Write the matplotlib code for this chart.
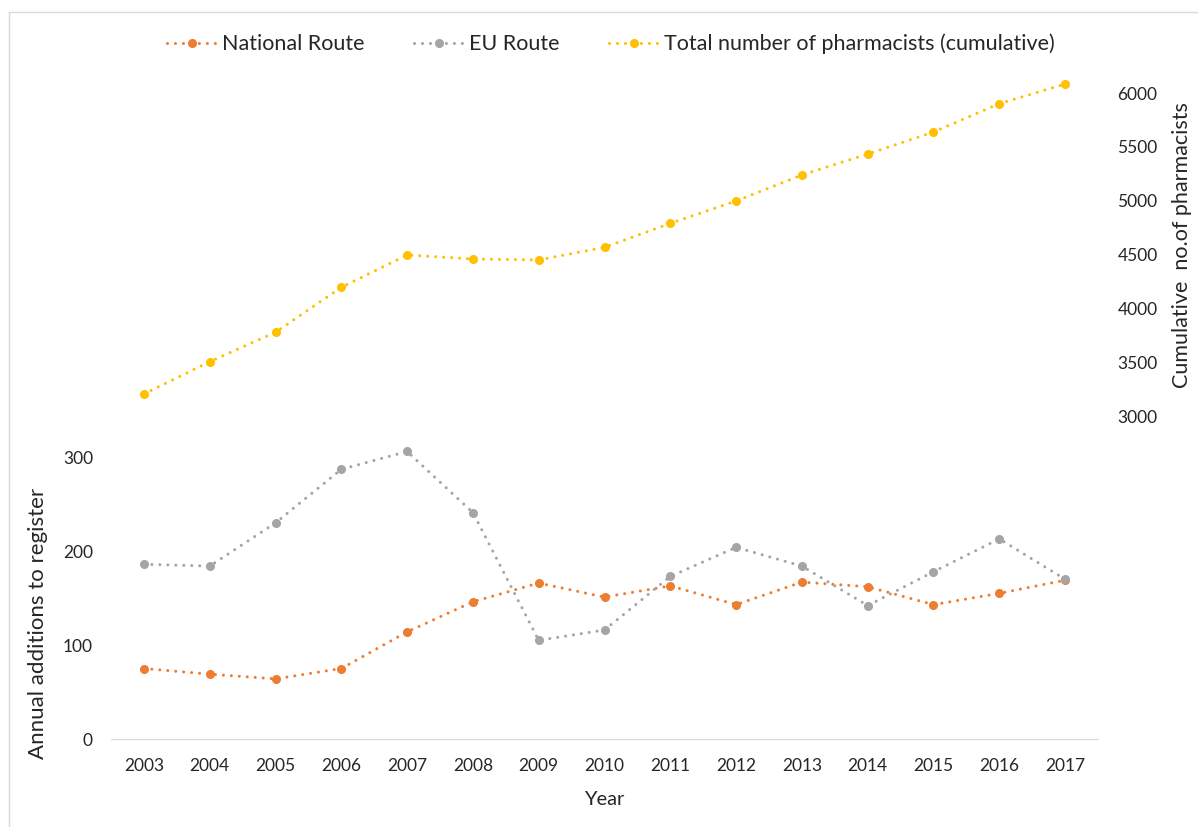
import matplotlib.pyplot as plt
from matplotlib.patches import Rectangle

plt.rcParams['font.family'] = ['Lato', 'DejaVu Sans']

years = ['2003', '2004', '2005', '2006', '2007', '2008', '2009', '2010',
         '2011', '2012', '2013', '2014', '2015', '2016', '2017']
national = [75, 69, 64, 75, 114, 146, 166, 151, 163, 143, 167, 162, 143, 155, 169]
eu = [186, 184, 230, 287, 306, 241, 105, 116, 173, 204, 184, 142, 178, 213, 170]
total = [3213, 3512, 3784, 4201, 4500, 4463, 4454, 4571, 4793, 5000,
         5241, 5435, 5639, 5901, 6083]

left_ticks = [0, 100, 200, 300]
right_ticks = [3000, 3500, 4000, 4500, 5000, 5500, 6000]

W, H = 1198, 827
fig = plt.figure(figsize=(W / 100, H / 100), dpi=100)

# light chart border like the Excel chart area
fig.patches.append(Rectangle((9 / W, -0.01), 1.1, 1 - 12 / H + 0.01,
                             transform=fig.transFigure, fill=False,
                             edgecolor='#d9d9d9', linewidth=1))

ax = fig.add_axes([111 / W, 88 / H, 987 / W, 669 / H])
ax2 = ax.twinx()

x = list(range(len(years)))
dots = (0, (0.01, 2.6))
style = dict(linestyle=dots, linewidth=2.2, dash_capstyle='round',
             marker='o', markersize=5.5)

l1, = ax.plot(x, national, color='#ED7D31', label='National Route', **style)
l2, = ax.plot(x, eu, color='#A5A5A5', label='EU Route', **style)
l3, = ax2.plot(x, total, color='#FFC000',
               label='Total number of pharmacists (cumulative)', **style)

ax.set_xlim(-0.5, len(years) - 0.5)
ax.set_ylim(0, 712)
ax2.set_ylim(18, 6213)

ax.set_xticks(x)
ax.set_xticklabels(years)
ax.set_yticks(left_ticks)
ax2.set_yticks(right_ticks)

txt = '#262626'
for a in (ax, ax2):
    for s in a.spines.values():
        s.set_visible(False)
    a.tick_params(length=0, labelsize=12.5, labelcolor=txt)
ax.spines['bottom'].set_visible(True)
ax.spines['bottom'].set_color('#d9d9d9')
ax.tick_params(axis='x', pad=14)
ax.tick_params(axis='y', pad=13)
ax2.tick_params(axis='y', pad=14)

ax.set_xlabel('Year', fontsize=14.5, color=txt, labelpad=12)
fig.text(38 / W, 1 - 623 / H, 'Annual additions to register', rotation=90,
         fontsize=16, color=txt, ha='center', va='center')
fig.text(1182 / W, 1 - 245 / H, 'Cumulative  no.of pharmacists', rotation=90,
         fontsize=15.5, color=txt, ha='center', va='center')

fig.legend(handles=[l1, l2, l3], loc='center', bbox_to_anchor=(611 / W, 1 - 44 / H),
           ncol=3, frameon=False, fontsize=15.5, handlelength=2.3,
           handletextpad=0.25, columnspacing=2.3, labelcolor=txt)

fig.savefig('out.png', dpi=100)
